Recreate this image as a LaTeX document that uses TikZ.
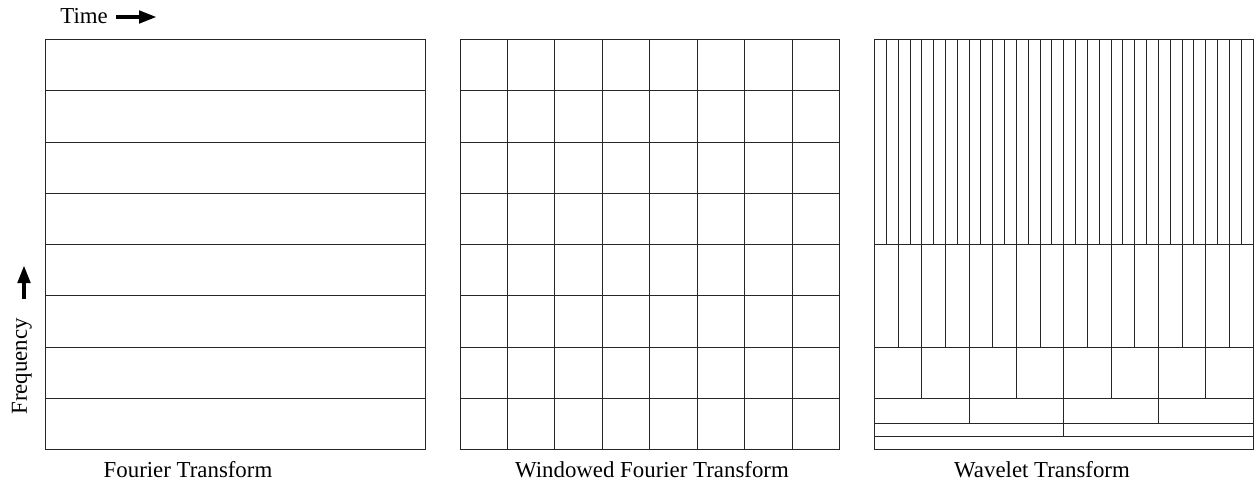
\documentclass[tikz,border=0pt]{standalone}
\usepackage{fontspec}
\setmainfont{Liberation Serif}
\usetikzlibrary{arrows.meta,positioning}

\begin{document}
\begin{tikzpicture}[
  x=0.02cm, y=-0.02cm,
  grid/.style={line width=0.55pt,draw=black!85},
  caption/.style={font=\fontsize{13}{15}\selectfont,inner sep=0pt},
  bigarrow/.style={-{Triangle[length=3.6mm,width=2.4mm]},line width=0.9mm}
]
\useasboundingbox (0,0) rectangle (1258,484);
% axis labels
\node[caption,anchor=base west] (time) at (60,23) {Time};
\coordinate (t0) at (116,17);
\coordinate (t1) at (157,17);
\draw[bigarrow] (t0) -- (t1);
\node[caption,anchor=base west,rotate=90] (freq) at (27,415) {Frequency};
\coordinate (f0) at (24,299);
\coordinate (f1) at (24,265);
\draw[bigarrow] (f0) -- (f1);
% Fourier transform
\draw[grid] (45.5,39.5) rectangle (425,449.5);
\foreach \r in {1,...,7}
  \draw[grid] (45.5,{39.5+\r*51.25}) -- (425,{39.5+\r*51.25});
% windowed Fourier transform
\draw[grid] (460,39.5) rectangle (839.5,449.5);
\foreach \r in {1,...,7}{
  \draw[grid] (460,{39.5+\r*51.25}) -- (839.5,{39.5+\r*51.25});
  \draw[grid] ({460+\r*47.4375},39.5) -- ({460+\r*47.4375},449.5);
}
% wavelet transform
\draw[grid] (874.5,39.5) rectangle (1253,449.5);
\foreach \n/\ya/\yb in {32/39.5/244.5,16/244.5/347,8/347/398.25,4/398.25/423.875,2/423.875/436.6875}{
  \foreach \k in {1,...,\n}
    \draw[grid] ({874.5+\k*378.5/\n},\ya) -- ({874.5+\k*378.5/\n},\yb);
  \draw[grid] (874.5,\yb) -- (1253,\yb);
}
% captions
\node[caption,anchor=base] (ft) at (188,477) {Fourier Transform};
\node[caption,anchor=base] (wft) at (652,477) {Windowed Fourier Transform};
\node[caption,anchor=base] (wt) at (1042,477) {Wavelet Transform};
\end{tikzpicture}
\end{document}
